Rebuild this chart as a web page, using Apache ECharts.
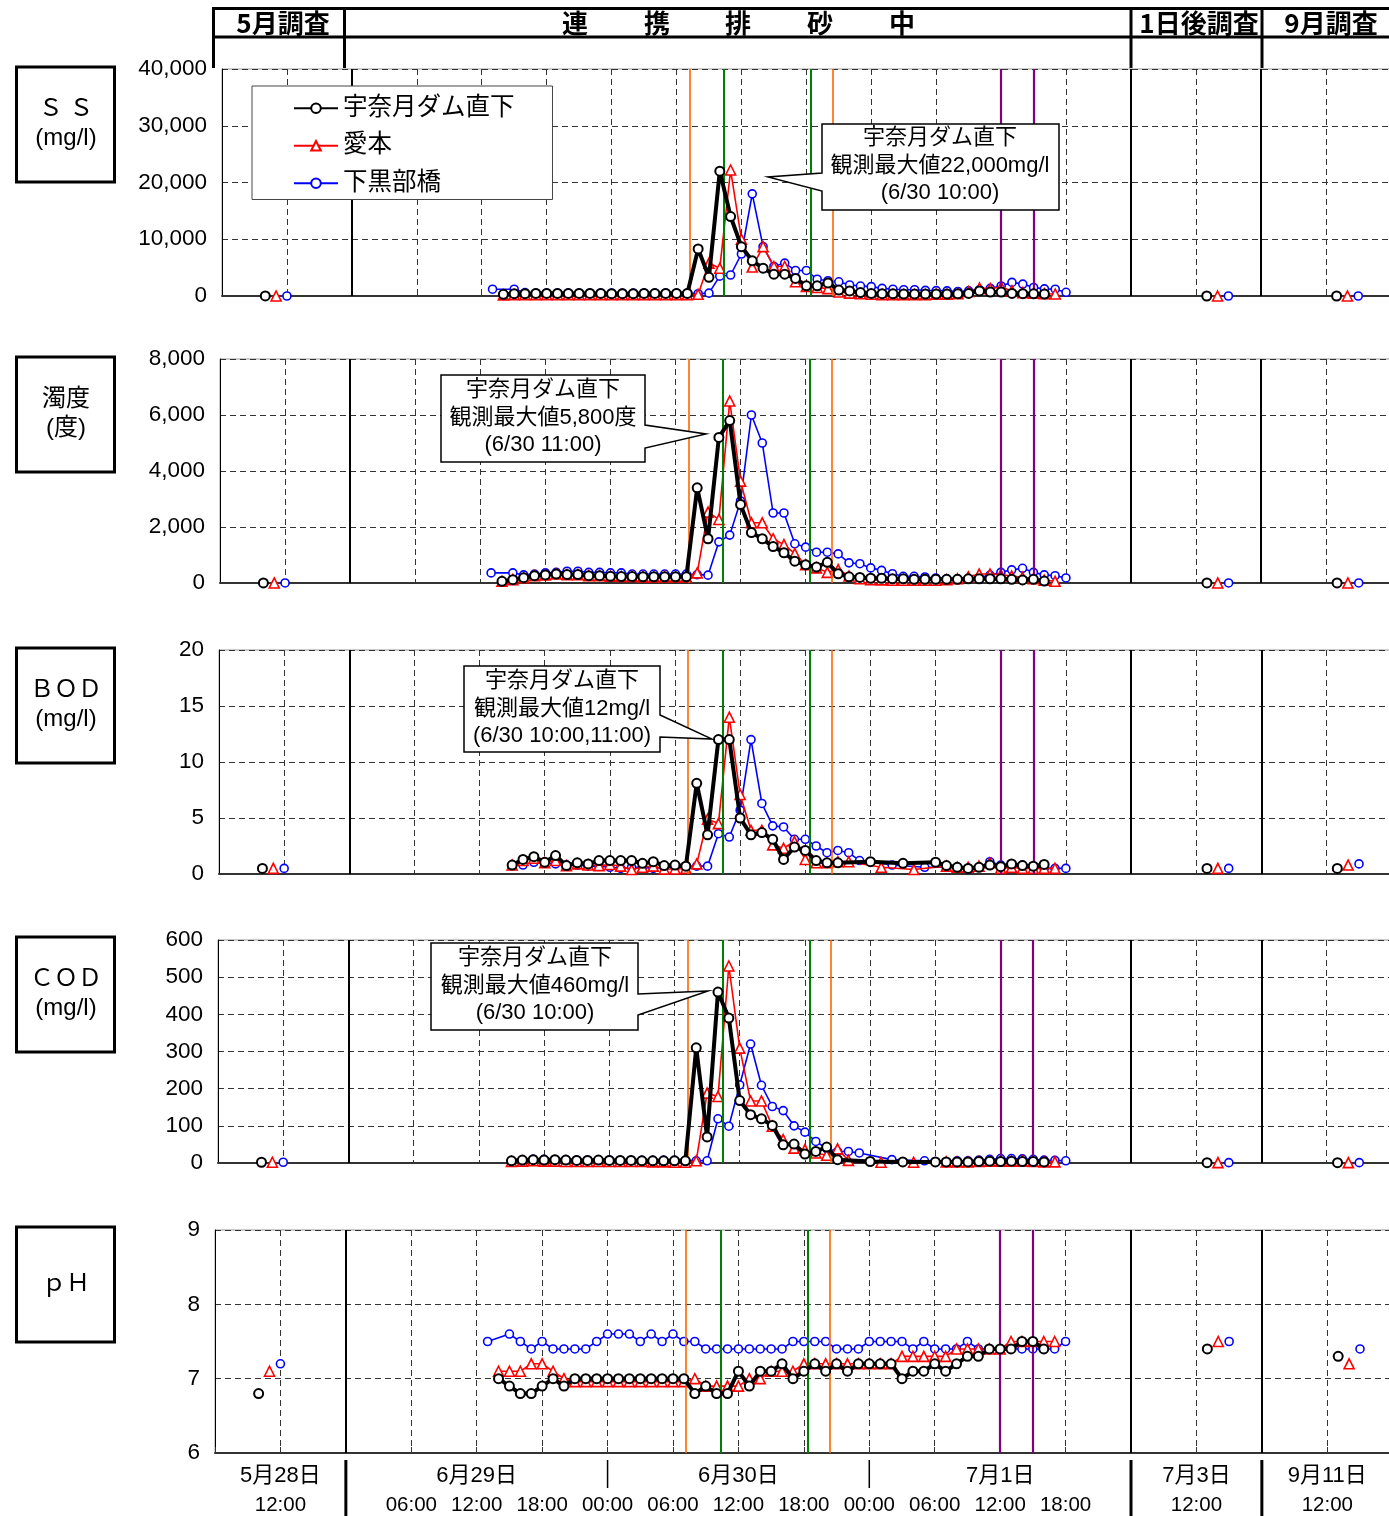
<!DOCTYPE html>
<html>
<head>
<meta charset="utf-8">
<script src="https://cdn.jsdelivr.net/npm/echarts/dist/echarts.min.js"></script>
<style>
html,body{margin:0;padding:0;background:#fff}
#chart{width:1389px;height:1516px}
</style>
</head>
<body>
<div id="chart"></div>
<script>
// ---------------- Stations ----------------
const stationNames = ['宇奈月ダム直下', '愛本', '下黒部橋'];

// ---------------- Sampling times during the flushing (hours after 6/29 00:00) ----------------
const hourlyDam    = [14,15,16,17,18,19,20,21,22,23,24,25,26,27,28,29,30,31,32,33,34,35,36,37,38,39,40,41,42,43,44,45,46,47,48,49,50,51,52,53,54,55,56,57,58,59,60,61,62,63,64];
const hourlyAimoto = [14,15,16,17,18,19,20,21,22,23,24,25,26,27,28,29,30,31,32,33,34,35,36,37,38,39,40,41,42,43,44,45,46,47,48,49,50,51,52,53,54,55,56,57,58,59,60,61,62,63,64,65];
const hourlyShimo  = [13,15,16,17,18,19,20,21,22,23,24,25,26,27,28,29,30,31,32,33,34,35,36,37,38,39,40,41,42,43,44,45,46,47,48,49,50,51,52,53,54,55,56,57,58,59,60,61,62,63,64,65,66];
const labDam    = [15,16,17,18,19,20,21,22,23,24,25,26,27,28,29,30,31,32,33,34,35,36,37,38,39,40,41,42,43,44,45,48,51,54,55,56,57,58,59,60,61,62,63,64];
const labAimoto = [15,16,17,18,19,20,21,22,23,24,25,26,27,28,29,30,31,32,33,34,35,36,37,38,39,40,41,42,43,44,45,46,49,52,55,56,57,58,59,60,61,62,63,64,65];
const labShimo  = [16,17,18,19,20,21,22,23,24,25,26,27,28,29,30,31,32,33,34,35,36,37,38,39,40,41,42,43,44,45,46,47,50,53,56,57,58,59,60,61,62,63,64,65,66];

// Spot surveys (5/28, 7/3, 9/11): clock hour of sampling on each day
const spotHourDam    = [10, 13, 13];
const spotHourAimoto = [11, 14, 14];
const spotHourShimo  = [12, 15, 15];

// ---------------- SS (mg/l) ----------------
const ssDam = [300,400,400,450,450,450,450,450,450,450,400,400,400,450,450,450,450,450,
  8300,3300,22000,14000,8700,6200,4900,3850,3850,3100,1800,1800,2300,1050,900,600,450,400,380,350,350,350,350,350,380,450,900,700,700,450,400,380,350];
const ssAimoto = [200,250,250,250,250,250,250,250,250,250,250,250,250,250,250,250,250,250,
  300,5800,4900,22200,10000,5100,8700,5200,5200,2500,1700,1500,1300,700,500,400,300,250,250,250,250,250,300,300,400,800,1400,1300,1600,900,600,500,400,350];
const ssShimo = [1200,1200,600,500,500,500,500,500,500,500,500,500,500,500,500,500,500,500,
  400,500,3500,3700,7400,18000,8700,5200,5800,4500,4500,2950,2700,2500,1950,1750,1650,1350,1200,1100,1100,1000,950,900,800,900,1100,1350,1770,2400,2100,1500,1250,1200,650];
const ssSpotDam = [3, 2, 2], ssSpotAimoto = [3, 2, 2], ssSpotShimo = [3, 2, 2];

// ---------------- Turbidity (度) ----------------
const turbDam = [60,120,190,260,290,320,300,300,260,260,240,230,230,220,220,220,220,220,
  3400,1580,5200,5800,2800,1800,1580,1300,1080,780,650,570,740,330,220,200,170,170,150,150,130,130,130,130,130,150,150,150,150,130,110,130,70];
const turbAimoto = [60,120,190,260,290,320,300,300,260,260,240,230,230,220,220,220,220,220,
  360,2530,2270,6500,3640,2150,2150,1580,1370,1050,650,540,380,480,250,150,120,110,100,100,100,100,100,120,150,220,320,320,300,250,200,150,100,60];
const turbShimo = [360,360,290,320,360,380,420,420,380,380,360,360,320,320,320,320,320,320,
  300,280,1470,1710,2930,6000,5000,2500,2500,1400,1280,1100,1100,1040,720,690,540,450,330,240,240,215,180,150,150,150,200,280,380,470,525,380,290,260,180];
const turbSpotDam = [2, 1, 1], turbSpotAimoto = [2, 1, 1], turbSpotShimo = [2, 1, 1];

// ---------------- BOD (mg/l) ----------------
const bodDam = [0.8,1.3,1.55,1.05,1.65,0.75,1.0,0.9,1.2,1.2,1.2,1.2,0.95,1.1,0.75,0.8,0.7,
  8.1,3.5,12,12,5.0,3.5,3.7,3.1,1.3,2.4,2.1,1.2,1.0,1.0,
  1.1,0.95,1.05,
  0.75,0.6,0.5,0.6,0.8,0.65,0.9,0.75,0.7,0.85];
const bodAimoto = [0.8,1.2,1.4,1.0,1.2,0.75,0.9,0.8,0.75,0.85,0.7,0.4,0.6,0.7,0.45,0.45,0.5,
  0.9,4.9,4.5,14,7.1,3.9,3.9,2.6,2.3,2.9,1.3,1.0,1.0,1.1,1.1,
  0.6,0.4,
  0.7,0.6,0.6,0.7,1.0,0.5,0.6,0.5,0.5,0.5,0.5];
const bodShimo = [0.8,1.05,1.0,0.9,0.8,0.8,0.7,0.7,0.6,0.5,0.6,0.6,0.5,0.6,0.6,0.6,
  0.7,0.7,3.6,3.3,5.7,12,6.3,4.3,4.2,3.1,3.1,2.5,1.9,2.1,1.9,1.2,
  0.8,0.6,
  0.6,0.5,0.6,1.1,0.8,0.7,0.8,0.6,0.5,0.5,0.5];
const bodSpotDam = [0.5, 0.5, 0.5], bodSpotAimoto = [0.5, 0.5, 0.8], bodSpotShimo = [0.5, 0.5, 0.9];

// ---------------- COD (mg/l) ----------------
const codDam = [6,8,9,8,9,8,7,7,8,7,7,7,6,6,6,6,6,
  310,70,460,390,168,130,119,101,49,51,24,31,43,9,
  4,3,3,
  3,3,3,4,5,4,5,4,4,3];
const codAimoto = [4,5,6,5,5,4,4,4,4,4,4,4,4,3,3,2,2,
  6,188,179,530,309,167,167,99,63,40,36,27,21,38,7,
  2,2,
  3,3,3,4,5,5,5,5,4,3,3];
const codShimo = [8,10,10,9,9,8,8,8,8,7,7,7,7,7,7,7,
  6,6,119,99,210,320,209,152,141,100,83,58,39,31,31,27,
  9,6,
  6,6,8,10,12,12,11,10,8,7,6];
const codSpotDam = [2, 1, 1], codSpotAimoto = [2, 1, 1], codSpotShimo = [2, 1, 1];

// ---------------- pH ----------------
const phDam = [7.0,6.9,6.8,6.8,6.9,7.0,6.9,7.0,7.0,7.0,7.0,7.0,7.0,7.0,7.0,7.0,7.0,7.0,
  6.8,6.9,6.8,6.8,7.1,6.9,7.1,7.1,7.2,7.0,7.1,7.2,7.1,7.2,7.1,7.2,7.2,7.2,7.2,7.0,7.1,7.1,7.2,7.1,7.2,7.3,7.3,7.4,7.4,7.4,7.5,7.5,7.4];
const phAimoto = [7.1,7.1,7.1,7.2,7.2,7.1,7.0,6.96,6.96,6.96,6.96,6.96,6.96,6.96,6.96,6.96,6.96,6.96,
  7.0,6.9,6.9,6.9,6.9,7.0,7.0,7.1,7.1,7.1,7.2,7.2,7.2,7.2,7.2,7.2,7.2,7.2,7.2,7.3,7.3,7.3,7.3,7.3,7.4,7.4,7.4,7.4,7.4,7.5,7.5,7.5,7.5,7.5];
const phShimo = [7.5,7.6,7.5,7.4,7.5,7.4,7.4,7.4,7.4,7.5,7.6,7.6,7.6,7.5,7.6,7.5,7.6,7.5,
  7.5,7.4,7.4,7.4,7.4,7.4,7.4,7.4,7.4,7.5,7.5,7.5,7.5,7.4,7.4,7.4,7.5,7.5,7.5,7.5,7.4,7.5,7.4,7.4,7.4,7.5,7.4,7.4,7.4,7.4,7.4,7.4,7.4,7.4,7.5];
const phSpotDam = [6.8, 7.4, 7.3], phSpotAimoto = [7.1, 7.5, 7.2], phSpotShimo = [7.2, 7.5, 7.4];

// ---------------- Event lines (hours after 6/29 00:00) ----------------
const orangeEvents = [31.2, 44.4];
const greenEvents  = [34.4, 42.4];
const purpleEvents = [60, 63];

// ---------------- Axis tick labels (broken time axis, hours) ----------------
const timeLabels = [[6,'12:00'],[18,'06:00'],[24,'12:00'],[30,'18:00'],[36,'00:00'],[42,'06:00'],
  [48,'12:00'],[54,'18:00'],[60,'00:00'],[66,'06:00'],[72,'12:00'],[78,'18:00'],[90,'12:00'],[102,'12:00']];
const dateLabels = [[6,'5月28日'],[24,'6月29日'],[48,'6月30日'],[72,'7月1日'],[90,'7月3日'],[102,'9月11日']];
const sectionTitles = ['5月調査', '連', '携', '排', '砂', '中', '1日後調査', '9月調査'];

// ---------------- Broken time axis ----------------
// 0-12: 5/28 06-18h, 12-84: 6/29 00h - 7/2 00h, 84-96: 7/3 06-18h, 96-108: 9/11 06-18h
const FLUSH_START = 12, SEG2 = 84, SEG3 = 96, AXIS_END = 108;
const spotDayStart = [0, SEG2, SEG3];
const flushX = t => FLUSH_START + t;
const spotX = (k, hour) => spotDayStart[k] + (hour - 6);

function seriesData(times, values, spotHours, spotValues) {
  const d = [[spotX(0, spotHours[0]), spotValues[0]], [FLUSH_START, '-']];
  times.forEach((t, i) => d.push([flushX(t), values[i]]));
  d.push([SEG2, '-'], [spotX(1, spotHours[1]), spotValues[1]], [SEG3, '-'], [spotX(2, spotHours[2]), spotValues[2]]);
  return d;
}

const FONT = "'Liberation Sans', 'Noto Sans CJK JP', sans-serif";
const JFONT = "'Noto Sans CJK JP', sans-serif";

// panel frames; the 7/2 00:00 separator sits at x = 1131 in every panel
const SEP_PX = 1131;
const panels = [
  { min: 0, max: 40000, interval: 10000, comma: true,
    dam: seriesData(hourlyDam, ssDam, spotHourDam, ssSpotDam),
    aimoto: seriesData(hourlyAimoto, ssAimoto, spotHourAimoto, ssSpotAimoto),
    shimo: seriesData(hourlyShimo, ssShimo, spotHourShimo, ssSpotShimo),
    box: { left: 222, top: 69, height: 227 } },
  { min: 0, max: 8000, interval: 2000, comma: true,
    dam: seriesData(hourlyDam, turbDam, spotHourDam, turbSpotDam),
    aimoto: seriesData(hourlyAimoto, turbAimoto, spotHourAimoto, turbSpotAimoto),
    shimo: seriesData(hourlyShimo, turbShimo, spotHourShimo, turbSpotShimo),
    box: { left: 220, top: 359, height: 224 } },
  { min: 0, max: 20, interval: 5,
    dam: seriesData(labDam, bodDam, spotHourDam, bodSpotDam),
    aimoto: seriesData(labAimoto, bodAimoto, spotHourAimoto, bodSpotAimoto),
    shimo: seriesData(labShimo, bodShimo, spotHourShimo, bodSpotShimo),
    box: { left: 219, top: 650, height: 224 } },
  { min: 0, max: 600, interval: 100,
    dam: seriesData(labDam, codDam, spotHourDam, codSpotDam),
    aimoto: seriesData(labAimoto, codAimoto, spotHourAimoto, codSpotAimoto),
    shimo: seriesData(labShimo, codShimo, spotHourShimo, codSpotShimo),
    box: { left: 218, top: 940, height: 223 } },
  { min: 6, max: 9, interval: 1,
    dam: seriesData(hourlyDam, phDam, spotHourDam, phSpotDam),
    aimoto: seriesData(hourlyAimoto, phAimoto, spotHourAimoto, phSpotAimoto),
    shimo: seriesData(hourlyShimo, phShimo, spotHourShimo, phSpotShimo),
    box: { left: 215, top: 1230, height: 223 } }
];

const dashed = { color: '#333', width: 1, type: [6, 4] };
const styleDam = { symbol: 'circle', symbolSize: 9, lineStyle: { color: '#000', width: 4 },
  itemStyle: { color: '#fff', borderColor: '#000', borderWidth: 2 } };
const styleAimoto = { symbol: 'triangle', symbolSize: 10, lineStyle: { color: '#ff0000', width: 1.6 },
  itemStyle: { color: '#fff', borderColor: '#ff0000', borderWidth: 1.6 } };
const styleShimo = { symbol: 'circle', symbolSize: 8, lineStyle: { color: '#0000ff', width: 1.6 },
  itemStyle: { color: '#fff', borderColor: '#0000ff', borderWidth: 1.6 } };

const lastPanel = panels.length - 1;
const grids = [], xAxes = [], yAxes = [], series = [];

function eventLine(t, color, width) {
  return { xAxis: flushX(t), lineStyle: { color: color, width: width, type: 'solid' } };
}

panels.forEach((p, i) => {
  const width = (SEP_PX - p.box.left) * AXIS_END / SEG2;
  grids.push({ left: p.box.left, top: p.box.top, width: width, height: p.box.height,
    show: true, borderColor: '#999', borderWidth: 1, containLabel: false, outerBoundsMode: 'none' });
  const isLast = i === lastPanel;
  xAxes.push({
    type: 'value', gridIndex: i, min: 0, max: AXIS_END, interval: 6,
    axisLine: { show: true, onZero: false, lineStyle: { color: '#333', width: 2 } },
    axisTick: { show: isLast, inside: true, length: 6, lineStyle: { color: '#333' } },
    splitLine: { show: true, lineStyle: dashed },
    axisLabel: isLast ? {
      show: true, margin: 8, showMinLabel: true, showMaxLabel: true,
      formatter: v => {
        const tl = timeLabels.find(e => e[0] === v);
        const dl = dateLabels.find(e => e[0] === v);
        if (!tl && !dl) return '';
        return '{d|' + (dl ? dl[1] : ' ') + '}\n{t|' + (tl ? tl[1] : ' ') + '}';
      },
      rich: {
        d: { fontSize: 22, fontFamily: FONT, color: '#000', lineHeight: 30, height: 30 },
        t: { fontSize: 20.5, fontFamily: FONT, color: '#000', lineHeight: 28, height: 28 }
      }
    } : { show: false }
  });
  yAxes.push({
    type: 'value', gridIndex: i, min: p.min, max: p.max, interval: p.interval,
    axisLine: { show: true, lineStyle: { color: '#000', width: 1 } },
    axisTick: { show: false },
    splitLine: { show: true, lineStyle: dashed },
    axisLabel: { show: true, margin: 15, fontSize: 22.5, fontFamily: FONT, color: '#000',
      formatter: v => p.comma ? v.toLocaleString('en-US') : String(v) }
  });
  // vertical section separators and event markers
  series.push({
    type: 'line', name: 'markers' + i, xAxisIndex: i, yAxisIndex: i, data: [], z: 1, silent: true,
    markLine: {
      silent: true, symbol: ['none', 'none'], label: { show: false }, animation: false,
      data: [
        { xAxis: FLUSH_START, lineStyle: { color: '#000', width: 2, type: 'solid' } },
        { xAxis: SEG2, lineStyle: { color: '#000', width: 2, type: 'solid' } },
        { xAxis: SEG3, lineStyle: { color: '#000', width: 2, type: 'solid' } },
        ...orangeEvents.map(t => eventLine(t, '#ff6600', 1.6)),
        ...greenEvents.map(t => eventLine(t, '#008000', 2)),
        ...purpleEvents.map(t => eventLine(t, '#800080', 2.2))
      ]
    }
  });
  const common = { type: 'line', xAxisIndex: i, yAxisIndex: i, showAllSymbol: true,
    connectNulls: false, animation: false, emphasis: { disabled: true }, silent: true };
  series.push(Object.assign({}, common, styleShimo, { name: stationNames[2], data: p.shimo, z: 3 }));
  series.push(Object.assign({}, common, styleAimoto, { name: stationNames[1], data: p.aimoto, z: 4 }));
  series.push(Object.assign({}, common, styleDam, { name: stationNames[0], data: p.dam, z: 5 }));
});

const chart = echarts.init(document.getElementById('chart'), null, { renderer: 'canvas' });
chart.setOption({
  animation: false,
  backgroundColor: '#fff',
  grid: grids,
  xAxis: xAxes,
  yAxis: yAxes,
  legend: {
    data: stationNames, orient: 'vertical', left: 252, top: 86,
    itemWidth: 44, itemHeight: 12, itemGap: 13, padding: [10, 38, 4, 41],
    borderColor: '#444', borderWidth: 1, backgroundColor: '#fff',
    selectedMode: false, z: 20,
    textStyle: { fontSize: 24.5, fontFamily: FONT, color: '#000' }
  },
  series: series
});

// ---------------- Frame, labels and notes ----------------
const g = [];
const line = (x1, y1, x2, y2, w) => g.push({ type: 'line', silent: true, z: 50,
  shape: { x1, y1, x2, y2 }, style: { stroke: '#000', lineWidth: w } });
const text = (t, x, y, font) => g.push({ type: 'text', silent: true, z: 60,
  style: { text: t, x, y, fill: '#000', font, textAlign: 'center', textVerticalAlign: 'middle' } });

// header table
line(212, 8.5, 1389, 8.5, 3);
line(212, 37, 1389, 37, 3);
[213.5, 344.5, 1131, 1262].forEach(x => line(x, 7, x, 68, 3));
const headFont = 'bold 26px ' + JFONT;
text(sectionTitles[0], 283, 23, headFont);
[575, 657, 738, 820, 902].forEach((x, k) => text(sectionTitles[1 + k], x, 23, headFont));
text(sectionTitles[6], 1199, 23, headFont);
text(sectionTitles[7], 1331, 23, headFont);

// item boxes on the left
const itemBoxes = [
  { top: 67, lines: ['Ｓ Ｓ', '(mg/l)'] },
  { top: 357, lines: ['濁度', '(度)'] },
  { top: 648, lines: ['ＢＯＤ', '(mg/l)'] },
  { top: 937, lines: ['ＣＯＤ', '(mg/l)'] },
  { top: 1227, lines: ['ｐＨ'] }
];
const boxFont = '24px ' + FONT;
itemBoxes.forEach(b => {
  g.push({ type: 'rect', silent: true, z: 50, shape: { x: 16.5, y: b.top, width: 98, height: 115 },
    style: { fill: '#fff', stroke: '#000', lineWidth: 3 } });
  const cy = b.top + 57.5;
  if (b.lines.length === 1) text(b.lines[0], 66, cy, boxFont);
  else { text(b.lines[0], 66, cy - 15, boxFont); text(b.lines[1], 66, cy + 14, boxFont); }
});

// callouts for the maximum values at 宇奈月ダム直下
const callouts = [
  { pts: [[822,124],[1059,124],[1059,210],[822,210],[822,191],[768,177],[822,173]], cx: 940, y0: 138,
    lines: ['宇奈月ダム直下', '観測最大値22,000mg/l', '(6/30 10:00)'] },
  { pts: [[441,375],[645,375],[645,425],[706,434],[645,448],[645,462],[441,462]], cx: 543, y0: 390,
    lines: ['宇奈月ダム直下', '観測最大値5,800度', '(6/30 11:00)'] },
  { pts: [[464,666],[660,666],[660,715],[712,739],[660,737],[660,752],[464,752]], cx: 562, y0: 681,
    lines: ['宇奈月ダム直下', '観測最大値12mg/l', '(6/30 10:00,11:00)'] },
  { pts: [[431,943],[638,943],[638,994],[708,991],[638,1015],[638,1030],[431,1030]], cx: 535, y0: 958,
    lines: ['宇奈月ダム直下', '観測最大値460mg/l', '(6/30 10:00)'] }
];
callouts.forEach(c => {
  g.push({ type: 'polygon', silent: true, z: 55, shape: { points: c.pts },
    style: { fill: '#fff', stroke: '#000', lineWidth: 1.5 } });
  c.lines.forEach((t, k) => text(t, c.cx, c.y0 + k * 27.5, '22px ' + FONT));
});

// separators under the bottom axis
const px = x => chart.convertToPixel({ xAxisIndex: lastPanel }, x);
[FLUSH_START, SEG2, SEG3].forEach(x => line(px(x), 1460, px(x), 1516, 3));
[flushX(24), flushX(48)].forEach(x => line(px(x), 1460, px(x), 1488, 1.5));

chart.setOption({ graphic: g });
</script>
</body>
</html>
